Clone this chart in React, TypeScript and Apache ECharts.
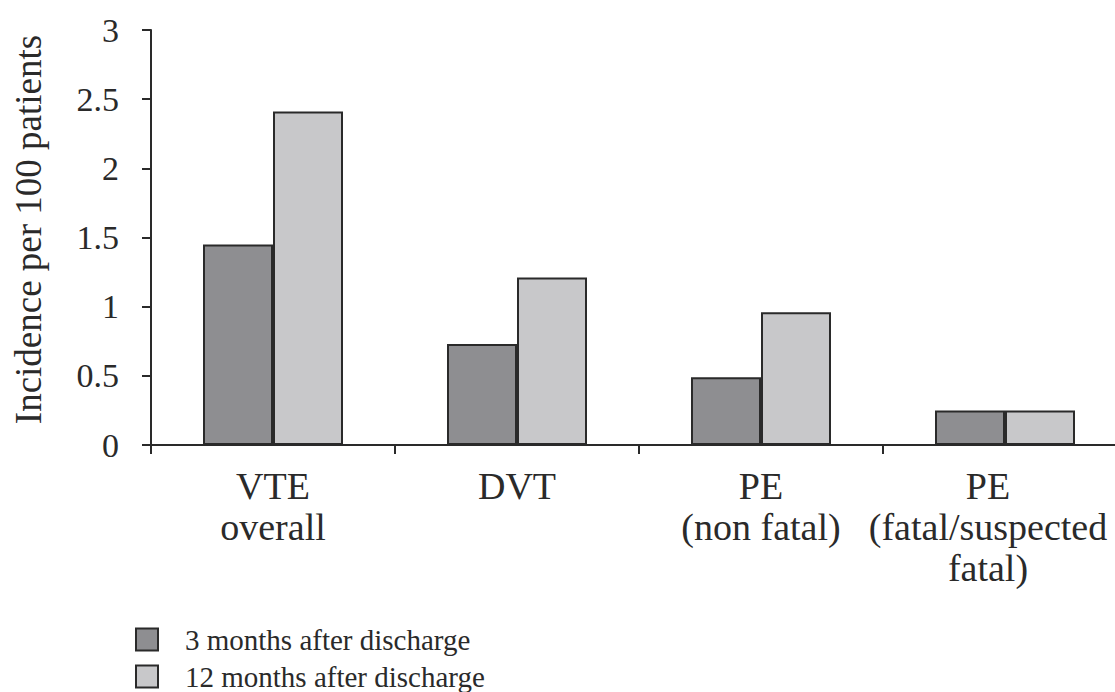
import React, { useEffect, useRef } from "react";
import * as echarts from "echarts";

const categories = ["VTE\noverall", "DVT", "PE\n(non fatal)", "PE\n(fatal/suspected\nfatal)"];
const seriesNames = ["3 months after discharge", "12 months after discharge"];
const threeMonths = [1.45, 0.73, 0.49, 0.25];
const twelveMonths = [2.41, 1.21, 0.96, 0.25];
const yTicks = [0, 0.5, 1, 1.5, 2, 2.5, 3];

const FONT = "'Liberation Serif', 'DejaVu Serif', serif";
const CANVAS_H = 730;

export default function App() {
  const ref = useRef<HTMLDivElement>(null);
  useEffect(() => {
    if (!ref.current) return;
    const chart = echarts.init(ref.current, undefined, { renderer: "svg" });
    chart.setOption({
      animation: false,
      backgroundColor: "#ffffff",
      textStyle: { fontFamily: FONT, color: "#2a2a2a" },
      grid: {
        left: 151,
        width: 976,
        top: 30,
        height: 415,
        containLabel: false,
        outerBoundsMode: "none",
      },
      legend: {
        orient: "vertical",
        left: 135,
        top: 625,
        padding: 0,
        itemWidth: 22,
        itemHeight: 22,
        itemGap: 8,
        icon: "rect",
        textStyle: { fontFamily: FONT, fontSize: 29, lineHeight: 22, color: "#2a2a2a", padding: [0, 0, 0, 22] },
        data: seriesNames,
      },
      xAxis: {
        type: "category",
        data: categories.map((c, i) =>
          i === 3 ? { value: c, textStyle: { padding: [0, 34, 0, 0] } } : c
        ),
        axisLine: { lineStyle: { color: "#2a2a2a", width: 2 } },
        axisTick: { show: true, length: 9, lineStyle: { color: "#2a2a2a", width: 2 } },
        axisLabel: {
          interval: 0,
          fontFamily: FONT,
          fontSize: 38,
          lineHeight: 41,
          color: "#2a2a2a",
          margin: 20,
          hideOverlap: false,
        },
      },
      yAxis: {
        type: "value",
        min: 0,
        max: 3,
        interval: 0.5,
        name: "Incidence per 100 patients",
        nameLocation: "middle",
        nameGap: 104,
        nameTextStyle: { fontFamily: FONT, fontSize: 37, color: "#2a2a2a", padding: [0, 0, 0, 16] },
        splitLine: { show: false },
        axisLine: { show: true, lineStyle: { color: "#2a2a2a", width: 2 } },
        axisTick: { show: true, length: 9, lineStyle: { color: "#2a2a2a", width: 2 } },
        axisLabel: {
          fontFamily: FONT,
          fontSize: 34,
          color: "#2a2a2a",
          margin: 32,
          formatter: (v: number) => (yTicks.includes(v) ? String(v) : ""),
        },
      },
      series: [
        {
          name: seriesNames[0],
          type: "bar",
          data: threeMonths,
          barWidth: 70,
          barGap: "0%",
          itemStyle: { color: "#8e8e91", borderColor: "#2a2a2a", borderWidth: 2 },
        },
        {
          name: seriesNames[1],
          type: "bar",
          data: twelveMonths,
          barWidth: 70,
          barGap: "0%",
          itemStyle: { color: "#c8c8ca", borderColor: "#2a2a2a", borderWidth: 2 },
        },
      ],
    });
    return () => chart.dispose();
  }, []);
  return (
    <div style={{ position: "absolute", left: 0, top: 0, width: 1115, height: 692, overflow: "hidden", background: "#fff" }}>
      <div ref={ref} style={{ width: 1115, height: CANVAS_H }} />
    </div>
  );
}
